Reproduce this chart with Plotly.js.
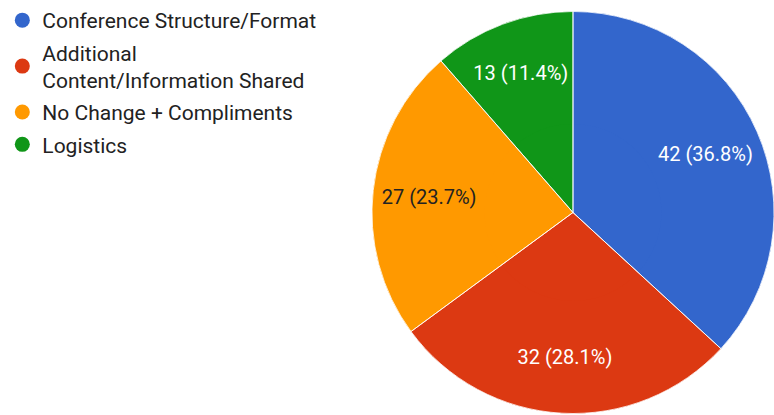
<!DOCTYPE html>
<html>
<head>
<meta charset="utf-8">
<script src="https://cdn.plot.ly/plotly-3.0.1.min.js"></script>
<style>html,body{margin:0;padding:0;background:#fff;overflow:hidden}</style>
</head>
<body>
<div id="chart" style="width:774px;height:415px"></div>
<script>
const categories = ["Conference Structure/Format", "Additional<br>Content/Information Shared", "No Change + Compliments", "Logistics"];
const values = [42, 32, 27, 13];
const colors = ["#3366cc", "#dc3912", "#ff9900", "#109618"];
const textColors = ["#ffffff", "#ffffff", "#222222", "#ffffff"];

const FONT = "Roboto, 'Noto Sans', Arial, sans-serif";
const pieDomain = {x: [0.4806, 1], y: [0, 1]};

const basePie = {
  type: "pie",
  labels: categories,
  values: values,
  sort: false,
  direction: "clockwise",
  rotation: 0,
  showlegend: false,
  domain: pieDomain
};

const traces = [
  Object.assign({}, basePie, {
    marker: {colors: colors, line: {width: 0}},
    textinfo: "none",
    hoverinfo: "skip"
  }),
  Object.assign({}, basePie, {
    hole: 0.44,
    marker: {colors: colors, line: {width: 0}},
    texttemplate: "%{value} (%{percent:.1%})",
    textposition: "inside",
    insidetextorientation: "horizontal",
    textfont: {family: FONT, size: 20, color: textColors},
    hoverinfo: "label+value+percent"
  }),
  Object.assign({}, basePie, {
    marker: {colors: colors.map(() => "rgba(0,0,0,0)"), line: {color: "rgba(255,255,255,0.8)", width: 1}},
    textinfo: "none",
    hoverinfo: "skip"
  })
];

categories.forEach((c, i) => {
  traces.push({
    type: "scatter",
    mode: "markers",
    x: [null], y: [null],
    name: c,
    legendgroup: "g" + i,
    marker: {color: colors[i], size: 15, symbol: "circle"},
    showlegend: true,
    hoverinfo: "skip"
  });
});

const layout = {
  width: 774,
  height: 415,
  margin: {l: 0, r: 0, t: 9, b: 0},
  paper_bgcolor: "#ffffff",
  plot_bgcolor: "rgba(0,0,0,0)",
  font: {family: FONT, size: 21, color: "#222222"},
  xaxis: {visible: false, domain: [0, 0.01]},
  yaxis: {visible: false, domain: [0, 0.01]},
  showlegend: true,
  legend: {
    x: 0.003, y: 1.024, xanchor: "left", yanchor: "top",
    font: {family: FONT, size: 21, color: "#222222"},
    tracegroupgap: 2,
    itemsizing: "trace",
    bgcolor: "rgba(0,0,0,0)"
  }
};

Plotly.newPlot("chart", traces, layout, {displayModeBar: false, staticPlot: true});
</script>
</body>
</html>
